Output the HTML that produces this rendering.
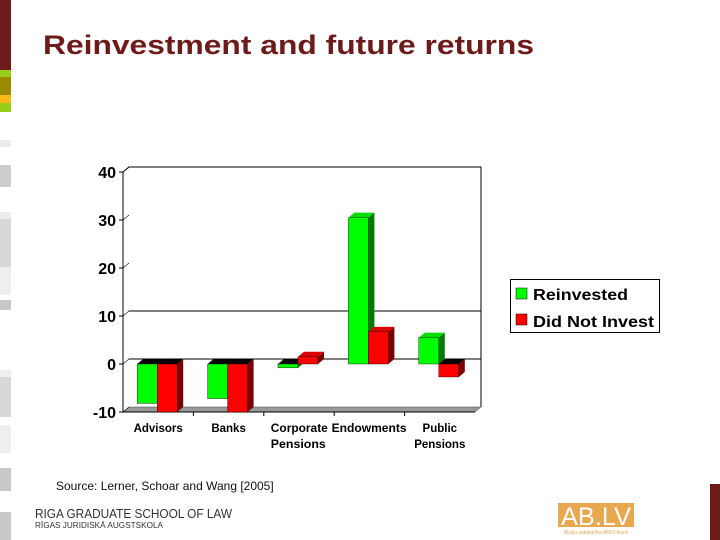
<!DOCTYPE html>
<html><head><meta charset="utf-8"><style>
html,body{margin:0;padding:0;background:#fff;width:720px;height:540px;overflow:hidden}
svg{display:block;font-family:"Liberation Sans",Arial,sans-serif}
</style></head><body>
<svg id="chart" width="720" height="540" viewBox="0 0 720 540">
<g>
<rect x="0" y="0" width="11" height="70" fill="#6d1a1a"/>
<rect x="0" y="70" width="11" height="7" fill="#9acd1a"/>
<rect x="0" y="77" width="11" height="18" fill="#9a8a00"/>
<rect x="0" y="95" width="11" height="8" fill="#fcb814"/>
<rect x="0" y="103" width="11" height="9" fill="#9acd1a"/>
<rect x="0" y="140" width="11" height="7" fill="#ececec"/>
<rect x="0" y="165" width="11" height="22" fill="#cccccc"/>
<rect x="0" y="212" width="11" height="7" fill="#ececec"/>
<rect x="0" y="219" width="11" height="48" fill="#d8d8d8"/>
<rect x="0" y="267" width="11" height="28" fill="#eeeeee"/>
<rect x="0" y="300" width="11" height="10" fill="#c8c8c8"/>
<rect x="0" y="370" width="11" height="7" fill="#eeeeee"/>
<rect x="0" y="377" width="11" height="40" fill="#d8d8d8"/>
<rect x="0" y="425" width="11" height="28" fill="#eeeeee"/>
<rect x="0" y="468" width="11" height="23" fill="#c8c8c8"/>
<rect x="0" y="512" width="11" height="28" fill="#c8c8c8"/>
</g>
<text x="43" y="54" font-size="27" font-weight="bold" fill="#6d1a1a" textLength="491" lengthAdjust="spacingAndGlyphs">Reinvestment and future returns</text>
<g id="plot"></g>
<g>
<rect x="510.5" y="279.5" width="149" height="53" fill="#fff" stroke="#000"/>
<g>
<rect x="516" y="288" width="11" height="11" fill="#00ff00" stroke="#000" stroke-width="0.5"/>
<text x="533" y="300" font-size="16" font-weight="bold" textLength="95" lengthAdjust="spacingAndGlyphs">Reinvested</text></g>
<g>
<rect x="516" y="314" width="11" height="11" fill="#ff0000" stroke="#000" stroke-width="0.5"/>
<text x="533" y="327" font-size="16" font-weight="bold" textLength="121" lengthAdjust="spacingAndGlyphs">Did Not Invest</text></g>
</g>
<text x="56" y="490" font-size="12" fill="#111">Source: Lerner, Schoar and Wang [2005]</text>
<g>
<text x="35" y="518" font-size="13" fill="#333" textLength="197" lengthAdjust="spacingAndGlyphs">RIGA GRADUATE SCHOOL OF LAW</text>
<text x="35" y="528" font-size="8" fill="#333" textLength="128" lengthAdjust="spacingAndGlyphs">RĪGAS JURIDISKĀ AUGSTSKOLA</text>
</g>
<g>
<rect x="558" y="503" width="76" height="24" fill="#e8a850"/>
<text x="596" y="525" font-size="25" fill="#fff" text-anchor="middle" textLength="70" lengthAdjust="spacingAndGlyphs">AB.LV</text>
<text x="596" y="534" font-size="5" fill="#e8a850" text-anchor="middle">Akciju sabiedrība ABLV Bank</text>
</g>
<rect x="710" y="484" width="10" height="56" fill="#6d1a1a"/>
</svg>
<script>
const categories=[["Advisors"],["Banks"],["Corporate","Pensions"],["Endowments"],["Public","Pensions"]];
const reinvested=[-8.2,-7.2,-0.8,30.5,5.5];
const didNotInvest=[-10,-10,1.5,6.7,-2.7];
const yTicks=[40,30,20,10,0,-10];
const NS="http://www.w3.org/2000/svg";
const g=document.getElementById('plot');
const X0=123,X1=475,Y0=364,PX=4.8,DX=6,DY=5;
const y=v=>Y0-v*PX;
const slot=(X1-X0)/categories.length;
function mk(tag,a,parent){const e=document.createElementNS(NS,tag);for(const k in a)e.setAttribute(k,a[k]);(parent||g).appendChild(e);return e;}
mk('polyline',{points:`${X0},${y(40)} ${X0+DX},${y(40)-DY} ${X1+DX},${y(40)-DY} ${X1+DX},${y(-10)-DY}`,fill:'none',stroke:'#000'});
mk('polygon',{points:`${X0},${y(-10)} ${X0+DX},${y(-10)-DY} ${X1+DX},${y(-10)-DY} ${X1},${y(-10)}`,fill:'#999',stroke:'#444','stroke-width':0.5});
[10,0].forEach(t=>mk('line',{x1:X0+DX,y1:y(t)-DY,x2:X1+DX,y2:y(t)-DY,stroke:'#000'}));
mk('line',{x1:X0,y1:y(40),x2:X0,y2:y(-10),stroke:'#000'});
mk('line',{x1:X0,y1:y(-10),x2:X1,y2:y(-10),stroke:'#000'});
yTicks.forEach(t=>{
 const l=mk('line',{x1:X0-4,y1:y(t),x2:X0,y2:y(t),stroke:'#000'});
 
 
 mk('line',{x1:X0,y1:y(t),x2:X0+DX,y2:y(t)-DY,stroke:'#000','stroke-width':0.6});
 const tx=mk('text',{x:X0-7,y:y(t)+6,'font-size':16,'font-weight':'bold','text-anchor':'end'});
 tx.textContent=t;
 
 
});
for(let i=1;i<categories.length;i++){const xx=X0+slot*i;mk('line',{x1:xx,y1:y(-10),x2:xx,y2:y(-10)+4,stroke:'#000'});}
function bar(cx,v,front,side,top,name){
 const w=20,b=y(0),t=y(v),yt=Math.min(b,t),yb=Math.max(b,t);
 const grp=mk('g',{});
 
 
 mk('polygon',{points:`${cx+w},${yt} ${cx+w+DX},${yt-DY} ${cx+w+DX},${yb-DY} ${cx+w},${yb}`,fill:side},grp);
 mk('polygon',{points:`${cx},${yt} ${cx+DX},${yt-DY} ${cx+w+DX},${yt-DY} ${cx+w},${yt}`,fill:v<0?'#000':top},grp);
 mk('rect',{x:cx,y:yt,width:w,height:yb-yt,fill:front,stroke:'#000','stroke-width':0.4},grp);
}
categories.forEach((c,i)=>{
 const cx=X0+slot*i+slot/2;
 bar(cx-21,reinvested[i],'#00ff00','#007a00','#00dd00','bar-reinvested-'+i);
 bar(cx-1,didNotInvest[i],'#ff0000','#7a0000','#dd0000','bar-did-not-invest-'+i);
 c.forEach((ln,j)=>{
  let x=cx,anchor='middle';
  const a={y:y(-10)+20+j*16,'font-size':11.5,'font-weight':'bold'};
  if(i==2){x=X0+slot*i+7;anchor='start';a.textLength=j==0?57:55;a.lengthAdjust='spacingAndGlyphs';}
  if(i==3){x=X0+slot*(i+1)+2;anchor='end';a.textLength=75;a.lengthAdjust='spacingAndGlyphs';}
  a.x=x;a['text-anchor']=anchor;
  const tx=mk('text',a);
  tx.textContent=ln;
  
  
 });
});
</script>
</body></html>
